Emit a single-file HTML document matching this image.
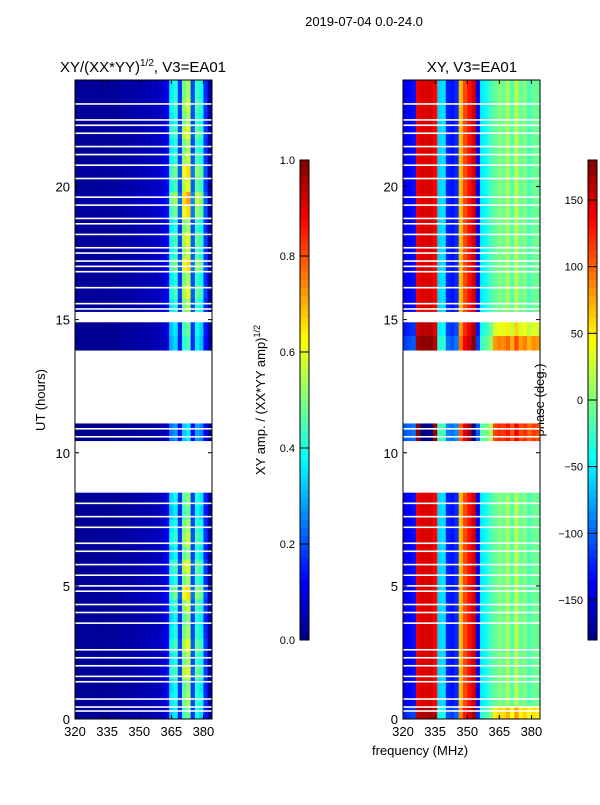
<!DOCTYPE html>
<html><head><meta charset="utf-8">
<style>
body{margin:0;background:#fff;}
svg text{font-family:"Liberation Sans",sans-serif;fill:#000;}
</style></head>
<body>
<svg id="fig" width="600" height="800" xmlns="http://www.w3.org/2000/svg">
<text x="364" y="26" font-size="13" text-anchor="middle">2019-07-04 0.0-24.0</text>
<text x="143" y="72" font-size="15" text-anchor="middle">XY/(XX*YY)<tspan font-size="10" dy="-6">1/2</tspan><tspan dy="6">, V3=EA01</tspan></text>
<text x="472" y="72" font-size="15" text-anchor="middle">XY, V3=EA01</text>
<text font-size="13" text-anchor="middle" transform="translate(45,400) rotate(-90)">UT (hours)</text>
<text x="420" y="755" font-size="13" text-anchor="middle">frequency (MHz)</text>
<text font-size="13" text-anchor="middle" transform="translate(265,400) rotate(-90)">XY amp. / (XX*YY amp)<tspan font-size="9" dy="-5">1/2</tspan></text>
<text font-size="13" text-anchor="middle" transform="translate(544,400) rotate(-90)">phase (deg.)</text>
<g id="left"></g>
<g id="right"></g>
<g id="cb"></g>
<g id="axes"></g>
</svg>
<script>
// ---- data ----
const freqEdges = [320,322,324,326,328,330,332,334,336,338,340,342,344,346,348,350,352,354,356,358,360,362,364,366,368,370,372,374,376,378,380,382,384];
const ampProfile = [0.02,0.02,0.03,0.02,0.03,0.03,0.02,0.03,0.03,0.03,0.03,0.04,0.04,0.04,0.05,0.05,0.05,0.06,0.06,0.07,0.08,0.12,0.4,0.45,0.2,0.55,0.6,0.22,0.48,0.42,0.18,0.04];
const phaseProfile = [-140,-135,-130,140,150,145,150,135,-60,-55,-125,-130,-120,70,110,130,150,-140,-50,-40,-20,-10,0,-5,10,-15,20,-10,0,-20,-5,-10];
const rowStarts = [0,0.5,1,1.5,2,2.5,3,3.5,4,4.5,5,5.5,6,6.5,7,7.5,8,10.45,13.85,14.4,15.3,15.8,16.3,16.8,17.3,17.8,18.3,18.8,19.3,19.8,20.3,20.8,21.3,21.8,22.3,22.8,23.3];
const rowEnds   = [0.5,1,1.5,2,2.5,3,3.5,4,4.5,5,5.5,6,6.5,7,7.5,8,8.5,11.1,14.4,14.9,15.8,16.3,16.8,17.3,17.8,18.3,18.8,19.3,19.8,20.3,20.8,21.3,21.8,22.3,22.8,23.3,24];
const rowScale  = [0.8,0.9,0.85,1.0,0.9,1.0,0.9,0.85,0.95,1.1,0.9,1.0,0.85,0.95,0.9,0.8,0.85,0.6,0.75,0.8,0.9,1.0,0.9,1.1,0.95,1.0,0.9,1.1,1.2,1.0,1.1,0.95,0.9,1.0,0.9,0.95,0.9];
const rowPhaseShift = [60,0,0,0,0,0,0,0,0,0,0,0,0,0,0,0,0,120,90,40,0,0,0,0,0,0,0,0,0,0,0,0,0,0,0,0,0];
const flagLines = [0.3,0.45,0.75,1.4,1.6,2.0,2.3,2.6,3.6,4.0,4.3,4.8,5.0,5.4,5.8,6.3,6.6,7.2,7.6,8.1,10.6,10.9,15.4,15.6,16.2,16.8,17.0,17.2,17.5,17.7,18.2,18.6,18.8,19.3,19.6,20.3,20.8,21.2,21.5,22.0,22.3,22.5,23.1];
const xTicks = [320,335,350,365,380];
const yTicks = [0,5,10,15,20];
const ampTicks = [0.0,0.2,0.4,0.6,0.8,1.0];
const phaseTicks = [-150,-100,-50,0,50,100,150];

// ---- scales ----
const Y0=719, Y1=80, F0=320, F1=384;
const yS = h => Y0 - (h/24)*(Y0-Y1);
const panels = [{x0:75,x1:212,g:'left'},{x0:403,x1:540,g:'right'}];
const xS = (p,f) => p.x0 + (f-F0)/(F1-F0)*(p.x1-p.x0);
function jet(v){v=Math.max(0,Math.min(1,v));
 const r=Math.min(1,Math.max(0,1.5-Math.abs(4*v-3))),g=Math.min(1,Math.max(0,1.5-Math.abs(4*v-2))),b=Math.min(1,Math.max(0,1.5-Math.abs(4*v-1)));
 return `rgb(${Math.round(r*255)},${Math.round(g*255)},${Math.round(b*255)})`;}
const NS='http://www.w3.org/2000/svg';
function mk(tag,attrs,parent){const e=document.createElementNS(NS,tag);for(const k in attrs)e.setAttribute(k,attrs[k]);parent.appendChild(e);return e;}

panels.forEach((p,pi)=>{
 const g=document.getElementById(p.g);
 for(let r=0;r<rowStarts.length;r++){
  for(let c=0;c<ampProfile.length;c++){
   let v;
   if(pi===0){v=ampProfile[c]*rowScale[r];}
   else{let ph=phaseProfile[c]+rowPhaseShift[r]*(c>20?1:0.3);ph=((ph+180)%360+360)%360-180;v=(ph+180)/360;}
   const x=xS(p,freqEdges[c]),x2=xS(p,freqEdges[c+1]);
   const rc=mk('rect',{x:x,y:yS(rowEnds[r]),width:x2-x+0.3,height:yS(rowStarts[r])-yS(rowEnds[r])+0.3,fill:jet(v)},g);
   
   
  }
 }
 flagLines.forEach(h=>{
  const l=mk('rect',{x:p.x0,y:yS(h)-0.8,width:p.x1-p.x0,height:1.6,fill:'#fff'},g);
  
  
 });
 const ax=document.getElementById('axes');
 const fr=mk('rect',{x:p.x0,y:Y1,width:p.x1-p.x0,height:Y0-Y1,fill:'none',stroke:'#000','stroke-width':1},ax);
 
 
 xTicks.forEach(t=>{const x=xS(p,t);
  mk('line',{x1:x,x2:x,y1:Y0,y2:Y0-4,stroke:'#000'},ax);mk('line',{x1:x,x2:x,y1:Y1,y2:Y1+4,stroke:'#000'},ax);
  const tx=mk('text',{x:x,y:Y0+17,'font-size':13,'text-anchor':'middle'},ax);tx.textContent=t;
  
  });
 yTicks.forEach(t=>{const y=yS(t);
  mk('line',{x1:p.x0,x2:p.x0+4,y1:y,y2:y,stroke:'#000'},ax);mk('line',{x1:p.x1,x2:p.x1-4,y1:y,y2:y,stroke:'#000'},ax);
  const tx=mk('text',{x:p.x0-5,y:y+5,'font-size':13,'text-anchor':'end'},ax);tx.textContent=t;
  
  });
});

// colorbars
const cbs=[{x:300,ticks:ampTicks,min:0,max:1,fmt:t=>t.toFixed(1)},{x:588,ticks:phaseTicks,min:-180,max:180,fmt:t=>t<0?'\u2212'+(-t):''+t}];
const cg=document.getElementById('cb');
cbs.forEach(cb=>{
 const top=160,bot=640,w=9,n=64;
 for(let i=0;i<n;i++){const y=bot-(i+1)*(bot-top)/n;
  mk('rect',{x:cb.x,y:y,width:w,height:(bot-top)/n+0.4,fill:jet((i+0.5)/n)},cg);}
 const f=mk('rect',{x:cb.x,y:top,width:w,height:bot-top,fill:'none',stroke:'#000'},cg);
 
 
 cb.ticks.forEach(t=>{const y=bot-(t-cb.min)/(cb.max-cb.min)*(bot-top);
  mk('line',{x1:cb.x,x2:cb.x+w,y1:y,y2:y,stroke:'#000'},cg);
  const tx=mk('text',{x:cb.x-5,y:y+4,'font-size':11,'text-anchor':'end'},cg);tx.textContent=cb.fmt(t);
  
  });
});
</script>
</body></html>
